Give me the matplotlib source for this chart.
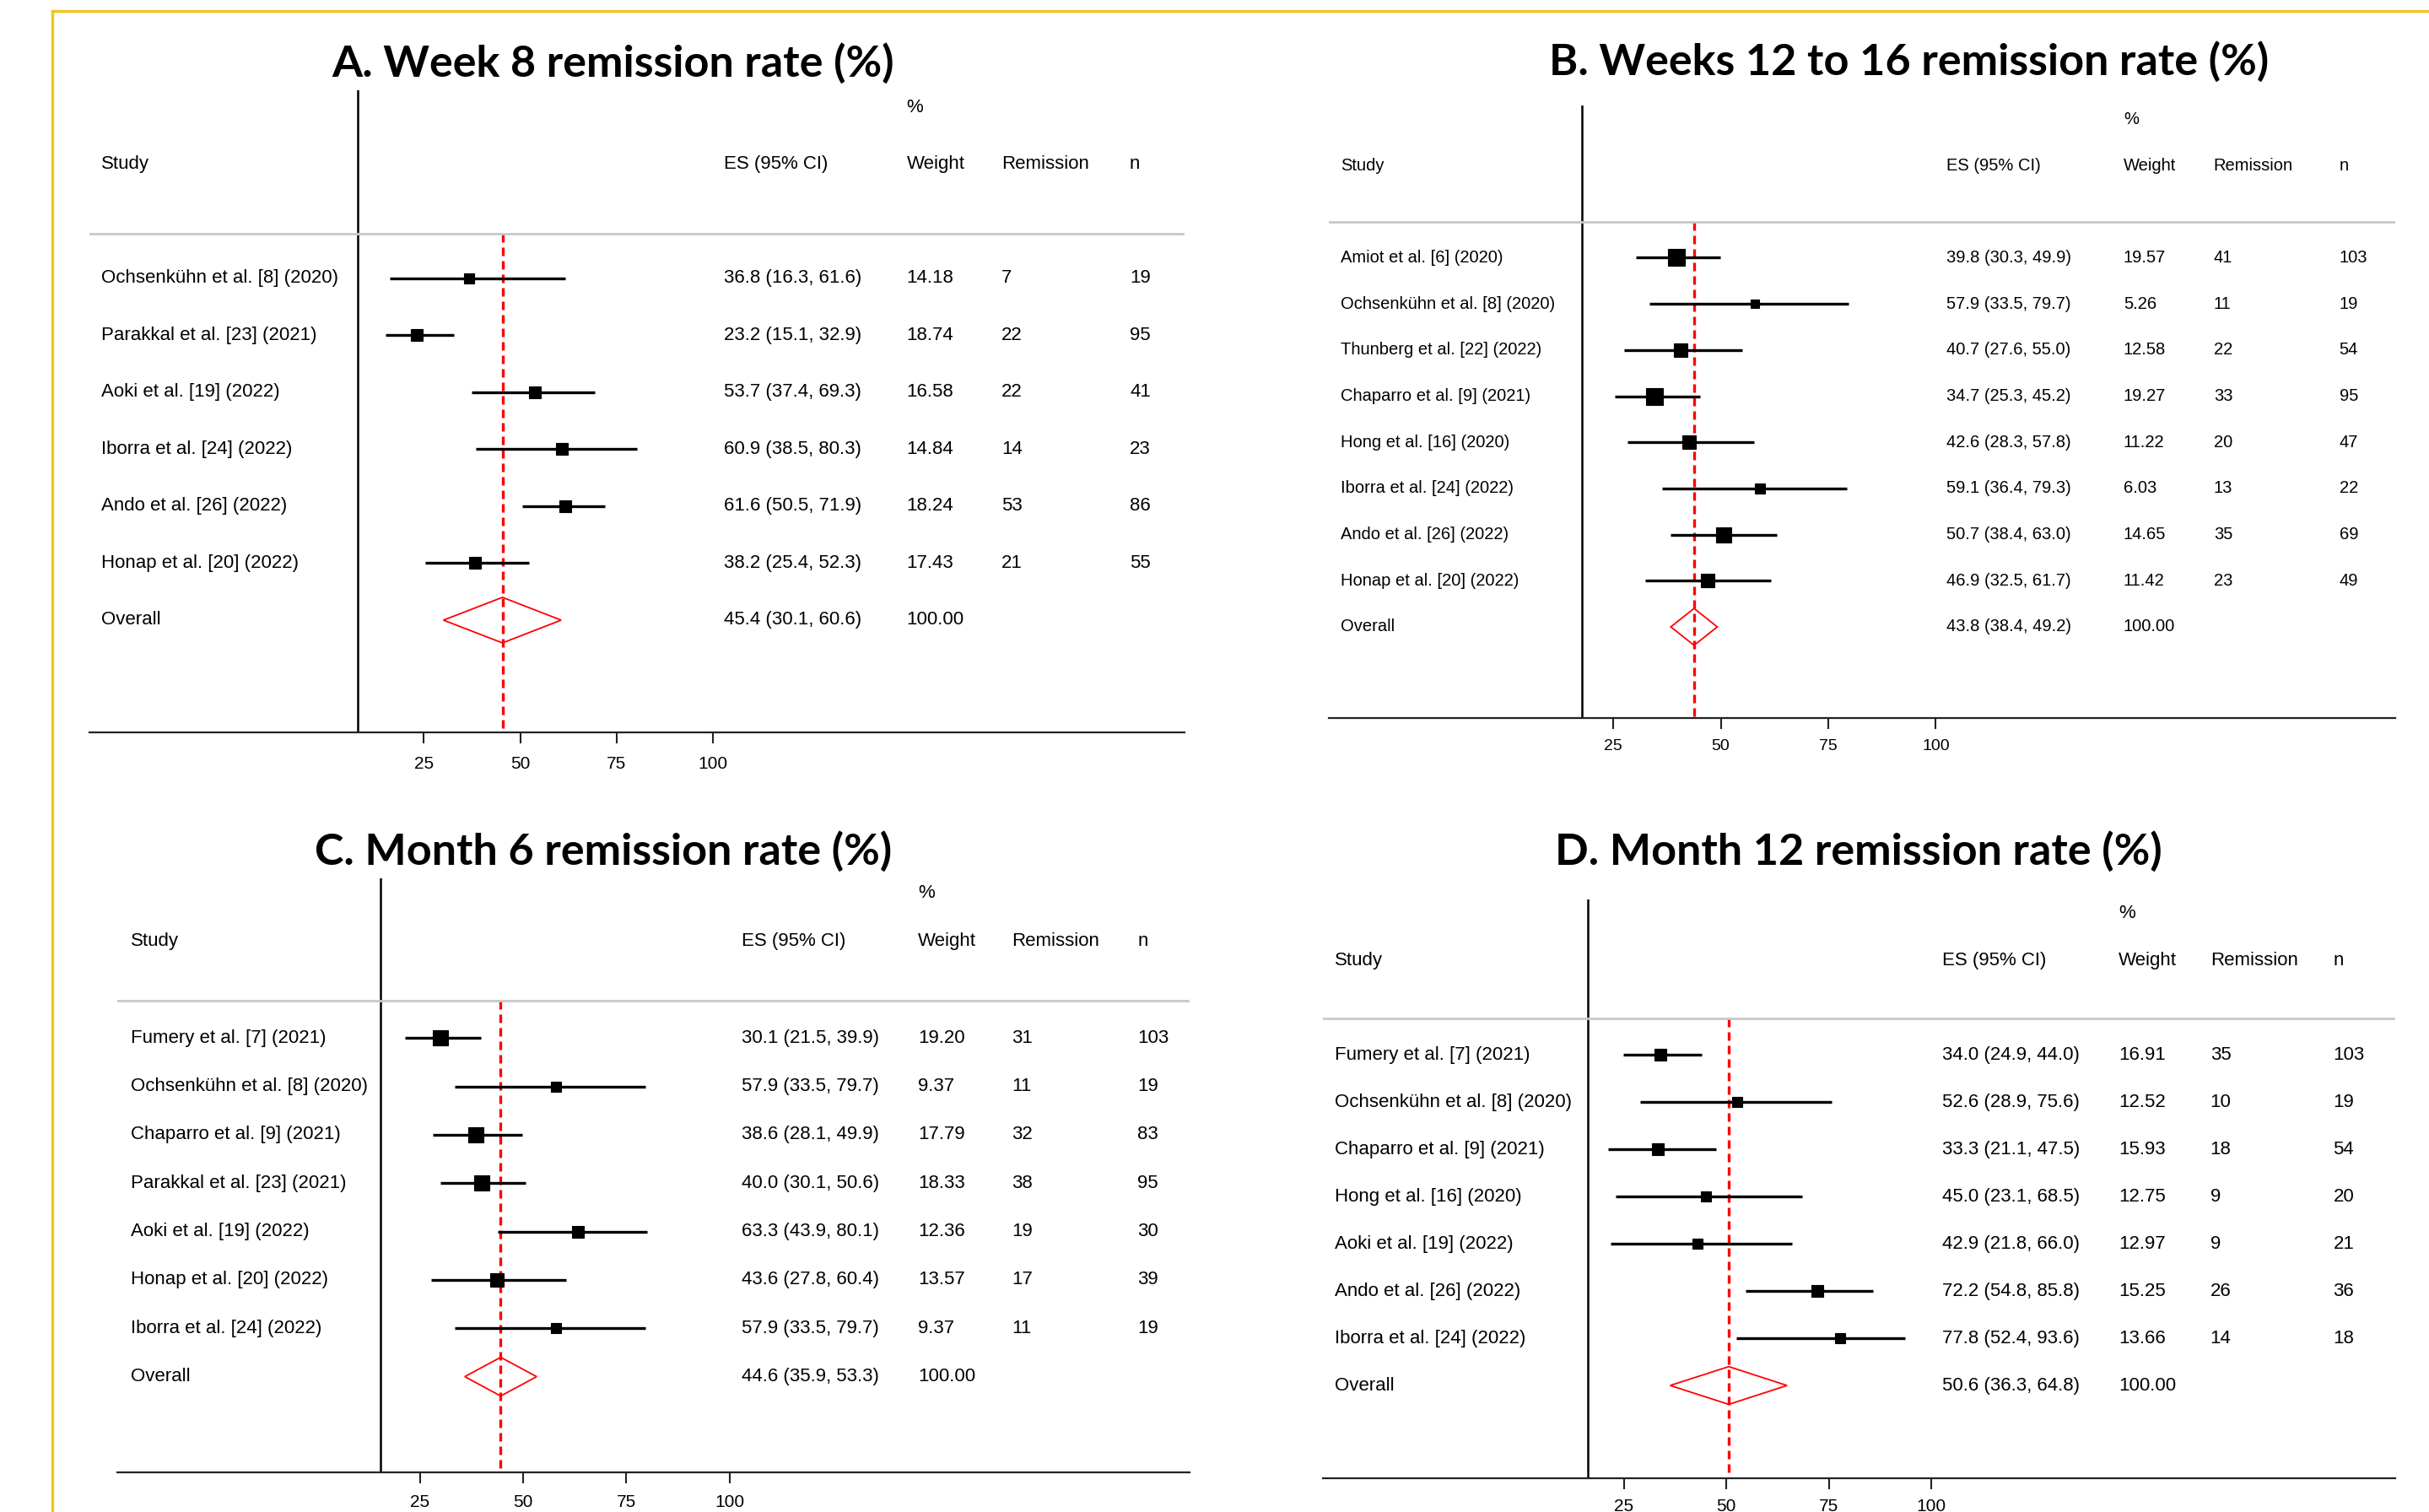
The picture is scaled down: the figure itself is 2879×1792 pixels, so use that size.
"""
Forest plots of remission rates (4 panels) redrawn with matplotlib.
"""
import matplotlib
matplotlib.use("Agg")
import matplotlib.pyplot as plt
from matplotlib.lines import Line2D
from matplotlib.patches import Polygon
import numpy as np

W_PX, H_PX = 2879, 1792
DPI = 100

# ---- Panel A : week 8 ----
a_studies = ["Ochsenkühn et al. [8] (2020)", "Parakkal et al. [23] (2021)",
             "Aoki et al. [19] (2022)", "Iborra et al. [24] (2022)",
             "Ando et al. [26] (2022)", "Honap et al. [20] (2022)"]
a_es = [36.8, 23.2, 53.7, 60.9, 61.6, 38.2]
a_lo = [16.3, 15.1, 37.4, 38.5, 50.5, 25.4]
a_hi = [61.6, 32.9, 69.3, 80.3, 71.9, 52.3]
a_weight = [14.18, 18.74, 16.58, 14.84, 18.24, 17.43]
a_remission = [7, 22, 22, 14, 53, 21]
a_n = [19, 95, 41, 23, 86, 55]
a_overall = [45.4, 30.1, 60.6]

# ---- Panel B : weeks 12 to 16 ----
b_studies = ["Amiot et al. [6] (2020)", "Ochsenkühn et al. [8] (2020)",
             "Thunberg et al. [22] (2022)", "Chaparro et al. [9] (2021)",
             "Hong et al. [16] (2020)", "Iborra et al. [24] (2022)",
             "Ando et al. [26] (2022)", "Honap et al. [20] (2022)"]
b_es = [39.8, 57.9, 40.7, 34.7, 42.6, 59.1, 50.7, 46.9]
b_lo = [30.3, 33.5, 27.6, 25.3, 28.3, 36.4, 38.4, 32.5]
b_hi = [49.9, 79.7, 55.0, 45.2, 57.8, 79.3, 63.0, 61.7]
b_weight = [19.57, 5.26, 12.58, 19.27, 11.22, 6.03, 14.65, 11.42]
b_remission = [41, 11, 22, 33, 20, 13, 35, 23]
b_n = [103, 19, 54, 95, 47, 22, 69, 49]
b_overall = [43.8, 38.4, 49.2]

# ---- Panel C : month 6 ----
c_studies = ["Fumery et al. [7] (2021)", "Ochsenkühn et al. [8] (2020)",
             "Chaparro et al. [9] (2021)", "Parakkal et al. [23] (2021)",
             "Aoki et al. [19] (2022)", "Honap et al. [20] (2022)",
             "Iborra et al. [24] (2022)"]
c_es = [30.1, 57.9, 38.6, 40.0, 63.3, 43.6, 57.9]
c_lo = [21.5, 33.5, 28.1, 30.1, 43.9, 27.8, 33.5]
c_hi = [39.9, 79.7, 49.9, 50.6, 80.1, 60.4, 79.7]
c_weight = [19.20, 9.37, 17.79, 18.33, 12.36, 13.57, 9.37]
c_remission = [31, 11, 32, 38, 19, 17, 11]
c_n = [103, 19, 83, 95, 30, 39, 19]
c_overall = [44.6, 35.9, 53.3]

# ---- Panel D : month 12 ----
d_studies = ["Fumery et al. [7] (2021)", "Ochsenkühn et al. [8] (2020)",
             "Chaparro et al. [9] (2021)", "Hong et al. [16] (2020)",
             "Aoki et al. [19] (2022)", "Ando et al. [26] (2022)",
             "Iborra et al. [24] (2022)"]
d_es = [34.0, 52.6, 33.3, 45.0, 42.9, 72.2, 77.8]
d_lo = [24.9, 28.9, 21.1, 23.1, 21.8, 54.8, 52.4]
d_hi = [44.0, 75.6, 47.5, 68.5, 66.0, 85.8, 93.6]
d_weight = [16.91, 12.52, 15.93, 12.75, 12.97, 15.25, 13.66]
d_remission = [35, 10, 18, 9, 9, 26, 14]
d_n = [103, 19, 54, 20, 21, 36, 18]
d_overall = [50.6, 36.3, 64.8]

ticks = [25, 50, 75, 100]

TXT_FONT = ["Liberation Sans", "DejaVu Sans"]
TITLE_FONT = ["Lato", "DejaVu Sans"]


def fig_rect(x0, y0, x1, y1):
    """pixel box (top-left origin) -> figure fraction rect"""
    return [x0 / W_PX, 1 - y1 / H_PX, (x1 - x0) / W_PX, (y1 - y0) / H_PX]


def forest(fig, box, xlim, cols, vline_x, title, title_xy, fs, tick_fs, pad, k,
           studies, es, lo, hi, weight, rem, n, overall):
    ax = fig.add_axes(fig_rect(*box))
    nrow = len(studies)
    y_over = nrow
    y_top, y_bot = -3.3, y_over + 1.97
    ax.set_xlim(*xlim)
    ax.set_ylim(y_bot, y_top)

    for s in ["top", "left", "right"]:
        ax.spines[s].set_visible(False)
    ax.spines["bottom"].set_linewidth(1.6)
    ax.spines["bottom"].set_color("#222222")
    ax.set_yticks([])
    ax.set_xticks(ticks)
    ax.set_xticklabels([str(t) for t in ticks], family=TXT_FONT, fontsize=tick_fs)
    ax.tick_params(axis="x", direction="out", length=9, width=1.5,
                   color="#222222", pad=pad)

    # frame lines
    ax.axvline(vline_x, color="black", lw=1.8)
    ax.axhline(-0.78, color="#c8c8c8", lw=2.0)
    ax.vlines(overall[0], -0.78, y_bot, colors="red", lw=2.4,
              linestyles=(0, (3, 1.8)), zorder=1)

    # study rows
    ys = np.arange(nrow)
    ax.hlines(ys, lo, hi, colors="black", lw=2.4, zorder=3)
    for yi, e, wt in zip(ys, es, weight):
        side_px = k * np.sqrt(wt)
        ax.plot(e, yi, marker="s", color="black", ms=side_px * 0.72,
                mec="black", mew=0.8, zorder=4)

    # overall diamond
    h = 0.4
    dia = Polygon([[overall[1], y_over], [overall[0], y_over - h],
                   [overall[2], y_over], [overall[0], y_over + h]],
                  closed=True, fill=False, ec="red", lw=1.3, zorder=4)
    ax.add_patch(dia)

    # header texts
    x_study, x_es, x_w, x_rem, x_n = cols
    kw = dict(family=TXT_FONT, fontsize=fs, va="center", ha="left", clip_on=False)
    ax.text(x_w, -3.0, "%", **kw)
    ax.text(x_study, -2.0, "Study", **kw)
    ax.text(x_es, -2.0, "ES (95% CI)", **kw)
    ax.text(x_w, -2.0, "Weight", **kw)
    ax.text(x_rem, -2.0, "Remission", **kw)
    ax.text(x_n, -2.0, "n", **kw)

    for yi, name, e, l, u, wt, r, nn in zip(ys, studies, es, lo, hi, weight, rem, n):
        ax.text(x_study, yi, name, **kw)
        ax.text(x_es, yi, f"{e:.1f} ({l:.1f}, {u:.1f})", **kw)
        ax.text(x_w, yi, f"{wt:.2f}", **kw)
        ax.text(x_rem, yi, str(r), **kw)
        ax.text(x_n, yi, str(nn), **kw)

    ax.text(x_study, y_over, "Overall", **kw)
    ax.text(x_es, y_over, f"{overall[0]:.1f} ({overall[1]:.1f}, {overall[2]:.1f})", **kw)
    ax.text(x_w, y_over, "100.00", **kw)

    fig.text(title_xy[0] / W_PX, 1 - title_xy[1] / H_PX, title, family=TITLE_FONT,
             fontweight="bold", fontsize=37.5, ha="center", va="center")
    return ax


fig = plt.figure(figsize=(W_PX / DPI, H_PX / DPI), dpi=DPI)
fig.patch.set_facecolor("white")

# yellow frame (top and left)
gold = "#f3c41a"
fig.add_artist(Line2D([62 / W_PX, 1.0], [1 - 12.7 / H_PX, 1 - 12.7 / H_PX],
                      transform=fig.transFigure, color=gold, lw=2.4))
fig.add_artist(Line2D([62 / W_PX, 62 / W_PX], [0.0, 1 - 12.7 / H_PX],
                      transform=fig.transFigure, color=gold, lw=2.4))

forest(fig, (106, 107, 1404, 868), (-61.6, 222.1),
       (-58.5, 102.8, 150.1, 174.7, 207.9), 7.8,
       "A. Week 8 remission rate (%)", (727, 75), 16, 15, 11, 3.45,
       a_studies, a_es, a_lo, a_hi, a_weight, a_remission, a_n, a_overall)

forest(fig, (1575, 125, 2839, 850.7), (-41.1, 206.8),
       (-38.4, 102.5, 143.6, 164.6, 193.8), 17.7,
       "B. Weeks 12 to 16 remission rate (%)", (2263, 73), 14.5, 14, 9, 4.6,
       b_studies, b_es, b_lo, b_hi, b_weight, b_remission, b_n, b_overall)

forest(fig, (138.7, 1041.2, 1410, 1744.5), (-48.3, 211.4),
       (-44.9, 103.0, 145.7, 168.3, 198.8), 15.4,
       "C. Month 6 remission rate (%)", (715, 1009), 16, 15, 10, 4.2,
       c_studies, c_es, c_lo, c_hi, c_weight, c_remission, c_n, c_overall)

forest(fig, (1568.4, 1065.7, 2839.3, 1752.3), (-48.3, 213.2),
       (-45.5, 102.6, 145.6, 168.0, 198.0), 16.2,
       "D. Month 12 remission rate (%)", (2203, 1009), 16, 15, 8, 3.5,
       d_studies, d_es, d_lo, d_hi, d_weight, d_remission, d_n, d_overall)

fig.savefig("out.png", dpi=DPI, facecolor="white")
